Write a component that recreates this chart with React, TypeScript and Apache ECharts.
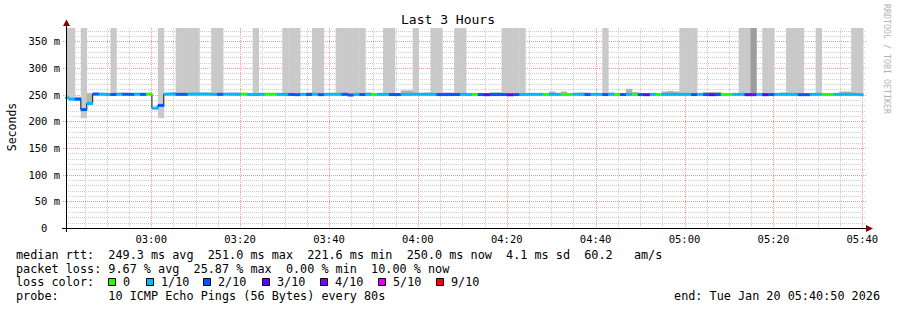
import React, { useEffect, useRef } from 'react';
import * as echarts from 'echarts';

// ---- time base (seconds of day) ----
const STEP_SECONDS = 80;
const FIRST_STEP_START = 9610; // 02:40:10
const VIEW_START = 9650; // 02:40:50
const VIEW_END = 20450; // 05:40:50
const Y_MAX = 375; // ms

// ---- per-step values (80 s steps) ----
const MEDIAN_MS = [
  244, 241.5, 241.5, 222, 233.5, 251.2, 251, 250.2, 250.4, 250.8,
  250.6, 250.6, 251, 250.6, 251, 224.7, 229.8, 251, 251, 250.6,
  250.6, 251, 251, 251, 251, 250.6, 250.6, 251, 250.8, 250.6,
  251, 250.4, 250.4, 250.6, 250.8, 250.8, 250.6, 250.4, 250.4, 250,
  250.6, 250.4, 250.8, 250, 250.6, 250.8, 250.6, 250.6, 249.4, 250.6,
  250.2, 250.6, 250.4, 250.6, 250.6, 250.2, 250.2, 250.6, 250.6, 250.8,
  250.8, 250.6, 250.6, 250.2, 250.2, 250.2, 250.4, 250.6, 250.4, 250.6,
  250.2, 250, 250.2, 250.2, 250.2, 250, 250.2, 250.4, 250.6, 250.6,
  250.6, 250.4, 250.6, 250.6, 250.4, 250.4, 250.8, 250.6, 250.2, 250.6,
  250.6, 250.2, 250.6, 250.4, 250.2, 250.6, 250.4, 250.2, 250, 250.6,
  250.4, 250.6, 250.6, 250.6, 250.6, 250.6, 250.2, 250.6, 250.2, 250,
  250.2, 250.4, 250.4, 250.6, 250.6, 250, 250, 250.6, 250, 250.2,
  250.6, 250.6, 250.6, 250.6, 250, 250, 250.6, 250.6, 250.4, 250.4,
  250.6, 250.6, 250.6, 250.6, 250,
];

// lost pings out of 10
const LOSS = [
  1, 1, 2, 2, 1, 2, 1, 1, 2, 1,
  2, 2, 1, 2, 0, 1, 2, 1, 1, 2,
  2, 1, 1, 1, 1, 1, 2, 1, 1, 1,
  0, 1, 1, 1, 0, 0, 1, 1, 2, 2,
  1, 2, 1, 2, 1, 1, 1, 2, 2, 1,
  2, 1, 0, 1, 1, 2, 2, 1, 1, 1,
  1, 1, 1, 2, 2, 2, 2, 1, 1, 0,
  2, 3, 2, 2, 2, 3, 2, 1, 1, 1,
  1, 0, 1, 1, 0, 0, 1, 1, 2, 1,
  1, 2, 1, 0, 2, 1, 0, 2, 3, 1,
  0, 1, 1, 1, 1, 1, 2, 1, 2, 3,
  2, 0, 0, 1, 1, 3, 4, 1, 3, 2,
  1, 1, 1, 1, 2, 2, 1, 1, 0, 0,
  1, 1, 1, 1, 1,
];

const SMOKE_LO = [
  243, 240.5, 240, 206, 231, 250.2, 250, 249.2, 249.4, 249.8,
  249.6, 249.6, 250, 249.6, 250, 223.5, 206, 250, 250, 249.6,
  249.6, 250, 250, 250, 250, 249.6, 249.6, 250, 249.8, 249.6,
  250, 249.4, 249.4, 249.6, 249.8, 249.8, 249.6, 249.4, 249.4, 249,
  249.6, 249.4, 249.8, 249, 249.6, 249.8, 249.6, 249.6, 248.4, 249.6,
  249.2, 249.6, 249.4, 249.6, 249.6, 249.2, 249.2, 249.6, 249.6, 249.8,
  249.8, 249.6, 249.6, 249.2, 249.2, 249.2, 249.4, 249.6, 249.4, 249.6,
  249.2, 249, 249.2, 249.2, 249.2, 249, 249.2, 249.4, 249.6, 249.6,
  249.6, 249.4, 249.6, 249.6, 249.4, 249.4, 249.8, 249.6, 249.2, 249.6,
  249.6, 249.2, 249.6, 249.4, 249.2, 249.6, 249.4, 249.2, 249, 249.6,
  249.4, 249.6, 249.6, 249.6, 249.6, 249.6, 249.2, 249.6, 249.2, 249,
  249.2, 249.4, 249.4, 249.6, 249.6, 249, 249, 249.6, 249, 249.2,
  249.6, 249.6, 249.6, 249.6, 249, 249, 249.6, 249.6, 249.4, 249.4,
  249.6, 249.6, 249.6, 249.6, 249,
];

const SMOKE_HI = [
  400, 400, 246, 400, 253, 253, 252.5, 253.5, 400, 254,
  252.5, 252.5, 252.5, 252, 252, 226, 400, 253, 254.5, 400,
  400, 400, 400, 254, 254, 400, 400, 252.5, 254, 254,
  252, 252, 400, 252.5, 252, 252, 252.5, 400, 400, 400,
  253, 254, 400, 400, 253, 252.5, 400, 400, 400, 400,
  400, 254, 252, 252.5, 400, 400, 253, 258, 258, 400,
  252.5, 254, 400, 400, 254, 254, 400, 400, 253, 252,
  252.5, 252, 254.5, 254.5, 400, 400, 400, 400, 252.5, 252.5,
  253, 252, 256, 252.5, 256, 252, 252.5, 254, 254, 252.5,
  252.5, 400, 254, 252, 253, 261, 255, 252.5, 252, 252.5,
  253, 256, 257, 256, 400, 400, 400, 253, 255, 255,
  255, 252, 252, 252.5, 400, 400, 400, 252.5, 400, 400,
  252.5, 254, 400, 400, 400, 253, 252.5, 400, 252, 252,
  253, 256, 256, 400, 400,
];

const DENSE_SMOKE_STEPS = [116];

// ---- legend / labels ----
const LOSS_LEVELS = [0, 1, 2, 3, 4, 5, 9];
const LOSS_LABELS = ['0', '1/10', '2/10', '3/10', '4/10', '5/10', '9/10'];
const LOSS_COLORS = ['#26ff00', '#00b8ff', '#0059ff', '#5e00ff', '#7e00ff', '#dd00ff', '#ff0000'];
const X_LABEL_TIMES = [10800, 12000, 13200, 14400, 15600, 16800, 18000, 19200, 20400];
const TITLE = 'Last 3 Hours';
const Y_NAME = 'Seconds';
const SIDE_TEXT = 'RRDTOOL / TOBI OETIKER';
const LEGEND_RTT = 'median rtt:  249.3 ms avg  251.0 ms max  221.6 ms min  250.0 ms now  4.1 ms sd  60.2   am/s';
const LEGEND_LOSS = 'packet loss: 9.67 % avg  25.87 % max  0.00 % min  10.00 % now';
const LEGEND_COLOR = 'loss color:';
const LEGEND_PROBE = 'probe:       10 ICMP Echo Pings (56 Bytes) every 80s';
const LEGEND_END = 'end: Tue Jan 20 05:40:50 2026';

const MONO = 'DejaVu Sans Mono';

function lossColor(n: number): string {
  let c = LOSS_COLORS[0];
  for (let k = 0; k < LOSS_LEVELS.length; k++) if (n >= LOSS_LEVELS[k]) c = LOSS_COLORS[k];
  return c;
}

function hhmm(s: number): string {
  const h = Math.floor(s / 3600);
  const m = Math.floor((s % 3600) / 60);
  return String(h).padStart(2, '0') + ':' + String(m).padStart(2, '0');
}

export default function App() {
  const ref = useRef<HTMLDivElement>(null);

  useEffect(() => {
    const chart = echarts.init(ref.current!, null, { renderer: 'svg' });

    const steps = MEDIAN_MS.map((m, i) => [
      FIRST_STEP_START + i * STEP_SECONDS,
      FIRST_STEP_START + (i + 1) * STEP_SECONDS,
      m,
      LOSS[i],
      SMOKE_LO[i],
      SMOKE_HI[i],
      i,
    ]);
    const stepLine = MEDIAN_MS.map((m, i) => [FIRST_STEP_START + i * STEP_SECONDS, m]);
    stepLine.push([FIRST_STEP_START + MEDIAN_MS.length * STEP_SECONDS, MEDIAN_MS[MEDIAN_MS.length - 1]]);

    // grid lines (axis ticks): 5-minute verticals, 10 ms horizontals
    const gridItems: number[][] = [];
    for (let t = Math.ceil(VIEW_START / 300) * 300; t <= VIEW_END; t += 300) {
      gridItems.push([0, t, t % 1200 === 0 ? 1 : 0]);
    }
    for (let v = 10; v < Y_MAX; v += 10) {
      gridItems.push([1, v, v % 50 === 0 ? 1 : 0]);
    }

    const legendGraphics: any[] = [];
    const boxX = [108, 146, 203, 262, 320, 378, 436];
    LOSS_LABELS.forEach((lab, k) => {
      legendGraphics.push({
        type: 'rect',
        shape: { x: boxX[k] + 0.5, y: 278.5, width: 7, height: 7 },
        style: { fill: LOSS_COLORS[k], stroke: '#000', lineWidth: 1 },
        silent: true,
      });
      legendGraphics.push({
        type: 'text',
        x: boxX[k] + 15,
        y: 282.4,
        style: { text: lab, fontFamily: MONO, fontSize: 11.8, fill: '#000', textVerticalAlign: 'middle' },
        silent: true,
      });
    });

    const legendText = (text: string, x: number, y: number, align = 'left') => ({
      type: 'text',
      x,
      y,
      style: { text, fontFamily: MONO, fontSize: 11.8, fill: '#000', textAlign: align, textVerticalAlign: 'middle' },
      silent: true,
    });

    const option: any = {
      animation: false,
      backgroundColor: '#ffffff',
      grid: { left: 66, top: 28, width: 800, height: 200, containLabel: false },
      xAxis: {
        type: 'value',
        min: VIEW_START,
        max: VIEW_END,
        axisLine: { show: false },
        axisTick: { show: false },
        splitLine: { show: false },
        axisLabel: {
          customValues: X_LABEL_TIMES,
          formatter: (v: number) => hhmm(v),
          fontFamily: MONO,
          fontSize: 10.5,
          color: '#000',
          margin: 5,
        },
      },
      yAxis: {
        type: 'value',
        min: 0,
        max: Y_MAX,
        interval: 50,
        axisLine: { show: false },
        axisTick: { show: false },
        splitLine: { show: false },
        axisLabel: {
          fontFamily: MONO,
          fontSize: 10.5,
          color: '#000',
          margin: 6,
          formatter: (v: number) => (v === 0 ? '0\u00a0\u00a0' : v > 360 ? '' : v + ' m'),
        },
      },
      series: [
        {
          type: 'custom',
          z: 1,
          silent: true,
          data: gridItems,
          renderItem: (params: any, api: any) => {
            const cs = params.coordSys;
            const kind = api.value(0);
            const v = api.value(1);
            const major = api.value(2) === 1;
            const stroke = major ? '#ef9a9a' : '#cdcdcd';
            if (kind === 0) {
              const x = Math.round(api.coord([v, 0])[0]) + 0.5;
              return {
                type: 'line',
                shape: { x1: x, y1: cs.y, x2: x, y2: cs.y + cs.height },
                style: { stroke, lineWidth: 1, lineDash: [1, 1] },
              };
            }
            const y = Math.round(api.coord([VIEW_START, v])[1]) + 0.5;
            return {
              type: 'line',
              shape: { x1: cs.x - (major ? 3 : 0), y1: y, x2: cs.x + cs.width, y2: y },
              style: { stroke, lineWidth: 1, lineDash: [1, 1] },
            };
          },
        },
        {
          type: 'custom',
          z: 2,
          silent: true,
          data: steps,
          encode: { x: [0, 1], y: [2, 4, 5] },
          renderItem: (params: any, api: any) => {
            const cs = params.coordSys;
            const lo = api.value(4);
            const hi = api.value(5);
            const a = api.coord([api.value(0), lo]);
            const b = api.coord([api.value(1), hi]);
            const x0 = Math.max(a[0], cs.x);
            const x1 = Math.min(b[0], cs.x + cs.width);
            const yTop = Math.max(b[1], cs.y);
            const yBot = Math.min(a[1], cs.y + cs.height);
            const idx = api.value(6);
            const fill = DENSE_SMOKE_STEPS.includes(idx) ? '#9d9d9d' : hi - lo > 60 ? '#c9c9c9' : '#b3b3b3';
            return {
              type: 'rect',
              shape: { x: x0, y: yTop, width: Math.max(0, x1 - x0 + 0.4), height: Math.max(0, yBot - yTop) },
              style: { fill },
            };
          },
        },
        {
          type: 'line',
          z: 3,
          silent: true,
          step: 'end',
          showSymbol: false,
          symbol: 'none',
          data: stepLine,
          lineStyle: { color: '#1a1a1a', width: 1 },
          clip: true,
        },
        {
          type: 'custom',
          z: 4,
          silent: true,
          data: steps,
          encode: { x: [0, 1], y: [2] },
          renderItem: (params: any, api: any) => {
            const cs = params.coordSys;
            const a = api.coord([api.value(0), api.value(2)]);
            const b = api.coord([api.value(1), api.value(2)]);
            const x0 = Math.max(a[0], cs.x);
            const x1 = Math.min(b[0], cs.x + cs.width);
            return {
              type: 'rect',
              shape: { x: x0, y: a[1] - 1.5, width: Math.max(0, x1 - x0 + 0.4), height: 3 },
              style: { fill: lossColor(api.value(3)) },
            };
          },
        },
      ],
      graphic: [
        // axes
        { type: 'line', shape: { x1: 66.5, y1: 24, x2: 66.5, y2: 232 }, style: { stroke: '#000', lineWidth: 1 }, silent: true, z: 10 },
        { type: 'line', shape: { x1: 62, y1: 228.5, x2: 868, y2: 228.5 }, style: { stroke: '#000', lineWidth: 1 }, silent: true, z: 10 },
        { type: 'polygon', shape: { points: [[63, 26], [70, 26], [66.5, 19.5]] }, style: { fill: '#8a0000' }, silent: true, z: 10 },
        { type: 'polygon', shape: { points: [[866, 225], [866, 232], [873, 228.5]] }, style: { fill: '#8a0000' }, silent: true, z: 10 },
        // titles
        {
          type: 'text', x: 448, y: 19.5,
          style: { text: TITLE, fontFamily: MONO, fontSize: 13, fill: '#000', textAlign: 'center', textVerticalAlign: 'middle' },
          silent: true,
        },
        {
          type: 'text', x: 11.5, y: 127, rotation: Math.PI / 2,
          style: { text: Y_NAME, fontFamily: MONO, fontSize: 11.5, fill: '#000', textAlign: 'center', textVerticalAlign: 'middle' },
          silent: true,
        },
        {
          type: 'text', x: 887, y: 4, rotation: -Math.PI / 2,
          style: { text: SIDE_TEXT, fontFamily: MONO, fontSize: 8.3, fill: '#b4b4b4', textAlign: 'left', textVerticalAlign: 'middle' },
          silent: true,
        },
        // legend
        legendText(LEGEND_RTT, 16, 254.6),
        legendText(LEGEND_LOSS, 16, 268.5),
        legendText(LEGEND_COLOR, 16, 282.4),
        legendText(LEGEND_PROBE, 16, 296.3),
        legendText(LEGEND_END, 880, 296.3, 'right'),
        ...legendGraphics,
      ],
    };

    chart.setOption(option);
    return () => chart.dispose();
  }, []);

  return <div ref={ref} style={{ position: 'absolute', left: 0, top: 0, width: 897, height: 310 }} />;
}
